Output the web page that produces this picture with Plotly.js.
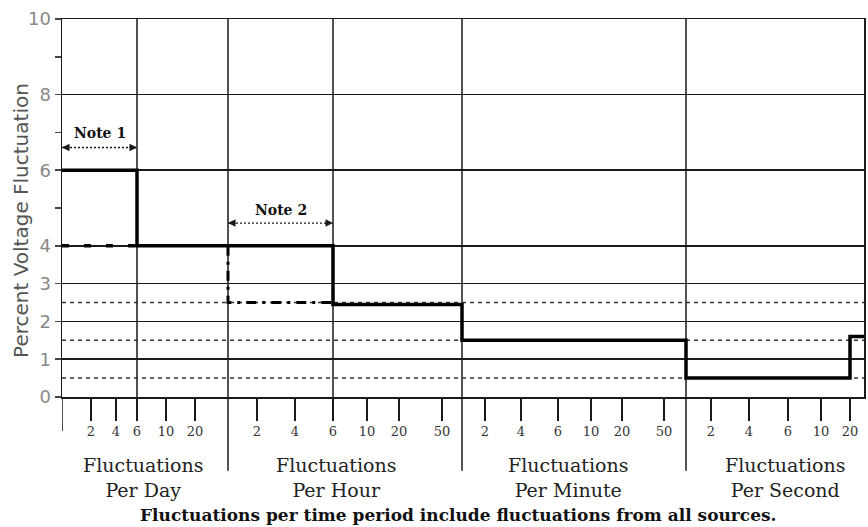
<!DOCTYPE html>
<html>
<head>
<meta charset="utf-8">
<script src="https://cdn.plot.ly/plotly-3.0.1.min.js"></script>
<style>
  html, body { margin: 0; padding: 0; background: #ffffff; }
  #chart { width: 868px; height: 527px; }
</style>
</head>
<body>
<div id="chart"></div>
<script>
// ---------------- data ----------------
const periods = ['Day', 'Hour', 'Minute', 'Second'];
const periodLabels = ['Fluctuations<br>Per Day', 'Fluctuations<br>Per Hour', 'Fluctuations<br>Per Minute', 'Fluctuations<br>Per Second'];
const dayTicks = [2, 4, 6, 10, 20];
const hourTicks = [2, 4, 6, 10, 20, 50];
const minuteTicks = [2, 4, 6, 10, 20, 50];
const secondTicks = [2, 4, 6, 10, 20];

// main limit curve (step, value holds until next breakpoint)
const limitCount = [1, 6, 6, 1, 1, 20, 25];
const limitPeriod = ['Day', 'Day', 'Hour', 'Minute', 'Second', 'Second', 'Second'];
const limitPercent = [6, 4, 2.45, 1.5, 0.5, 1.6, 1.6];

// Note 1 alternative limit
const note1Count = [1, 6];
const note1Period = ['Day', 'Day'];
const note1Percent = [4, 4];

// Note 2 alternative limit
const note2Count = [1, 1, 6];
const note2Period = ['Hour', 'Hour', 'Hour'];
const note2Percent = [4, 2.5, 2.5];

// dotted guide levels
const guidePercents = [0.5, 1.5, 2.5];

// y axis
const yLabelled = [0, 1, 2, 3, 4, 6, 8, 10];
const yUnlabelled = [5, 7, 9];

const yTitle = 'Percent Voltage Fluctuation';
const bottomNote = 'Fluctuations per time period include fluctuations from all sources.';

// ---------------- hand-drawn frequency scale of the chart ----------------
const SCALE = {
  Day:    { counts: [1, 2, 4, 6, 10, 20, 24],     pos: [0, 29, 54, 75, 104, 133, 166] },
  Hour:   { counts: [1, 2, 4, 6, 10, 20, 50, 60], pos: [166, 195, 233, 271, 305, 337, 380, 400] },
  Minute: { counts: [1, 2, 4, 6, 10, 20, 50, 60], pos: [400, 423, 459, 496, 529, 560, 602, 624] },
  Second: { counts: [1, 2, 4, 6, 10, 20, 25],     pos: [624, 649, 687, 726, 759, 788, 802] }
};
function pos(count, period) {
  const s = SCALE[period];
  for (let i = 0; i < s.counts.length - 1; i++) {
    if (count >= s.counts[i] && count <= s.counts[i + 1]) {
      const t = (count - s.counts[i]) / (s.counts[i + 1] - s.counts[i]);
      return s.pos[i] + t * (s.pos[i + 1] - s.pos[i]);
    }
  }
  return count < s.counts[0] ? s.pos[0] : s.pos[s.pos.length - 1];
}
const xMin = pos(1, 'Day');
const xMax = pos(25, 'Second');

// ticks
const tickSets = { Day: dayTicks, Hour: hourTicks, Minute: minuteTicks, Second: secondTicks };
const tickVals = [], tickText = [];
periods.forEach(p => tickSets[p].forEach(c => { tickVals.push(pos(c, p)); tickText.push(String(c)); }));

const INK = '#1a1a1a';
const serif = 'DejaVu Serif, Liberation Serif, serif';
const sans = 'DejaVu Sans, sans-serif';

// ---------------- traces ----------------
const traces = [
  {
    x: limitCount.map((c, i) => pos(c, limitPeriod[i])),
    y: limitPercent,
    mode: 'lines', line: { shape: 'hv', color: '#000', width: 3.5 },
    hoverinfo: 'skip', showlegend: false
  },
  {
    x: note1Count.map((c, i) => pos(c, note1Period[i])),
    y: note1Percent,
    mode: 'lines', line: { color: '#000', width: 3.5, dash: '7px,15px' },
    hoverinfo: 'skip', showlegend: false
  },
  {
    x: note2Count.map((c, i) => pos(c, note2Period[i])),
    y: note2Percent,
    mode: 'lines', line: { color: '#000', width: 3, dash: '10px,6px,3px,6px' },
    hoverinfo: 'skip', showlegend: false
  }
];

// ---------------- shapes ----------------
const shapes = [];
guidePercents.forEach(v => shapes.push({
  type: 'line', xref: 'x', yref: 'y', x0: xMin, x1: xMax, y0: v, y1: v,
  line: { color: '#333', width: 1.5, dash: '4px,4px' }, layer: 'below'
}));
// vertical grid lines at 6/day and 6/hour
[['Day', 6], ['Hour', 6]].forEach(([p, c]) => shapes.push({
  type: 'line', xref: 'x', yref: 'paper', x0: pos(c, p), x1: pos(c, p), y0: 0, y1: 1,
  line: { color: INK, width: 1.5 }, layer: 'below'
}));
// section boundaries, extended below the axis
['Hour', 'Minute', 'Second'].forEach(p => shapes.push({
  type: 'line', xref: 'x', yref: 'paper', x0: pos(1, p), x1: pos(1, p), y0: 1, y1: -0.195,
  line: { color: INK, width: 1.5 }, layer: 'below'
}));
// left axis extension
shapes.push({
  type: 'line', xref: 'x', yref: 'paper', x0: xMin, x1: xMin, y0: 0, y1: -0.09,
  line: { color: INK, width: 1.5 }
});
// note arrows (dotted shafts)
const noteArrows = [
  { from: pos(1, 'Day'), to: pos(6, 'Day'), y: 6.6, label: 'Note 1', ty: 6.98 },
  { from: pos(1, 'Hour'), to: pos(6, 'Hour'), y: 4.6, label: 'Note 2', ty: 4.95 }
];
noteArrows.forEach(a => shapes.push({
  type: 'line', xref: 'x', yref: 'y', x0: a.from, x1: a.to, y0: a.y, y1: a.y,
  line: { color: INK, width: 1.3, dash: '2px,2px' }
}));

// ---------------- annotations ----------------
const annotations = [];
noteArrows.forEach(a => {
  annotations.push({
    x: (a.from + a.to) / 2, y: a.ty, xref: 'x', yref: 'y', text: '<b>' + a.label + '</b>',
    showarrow: false, font: { family: serif, size: 14, color: '#111' }
  });
  annotations.push({
    x: a.from, y: a.y, xref: 'x', yref: 'y', ax: 9, ay: 0, text: '',
    showarrow: true, arrowhead: 2, arrowsize: 1, arrowwidth: 1.5, arrowcolor: INK
  });
  annotations.push({
    x: a.to, y: a.y, xref: 'x', yref: 'y', ax: -9, ay: 0, text: '',
    showarrow: true, arrowhead: 2, arrowsize: 1, arrowwidth: 1.5, arrowcolor: INK
  });
});
const sectionCenters = [81, 274, 506, 723];
periods.forEach((p, i) => annotations.push({
  x: sectionCenters[i], y: -0.212, xref: 'x', yref: 'paper', yanchor: 'middle',
  text: periodLabels[i], showarrow: false, align: 'center',
  font: { family: serif, size: 19, color: '#222' }
}));
annotations.push({
  x: 0.495, y: -0.313, xref: 'paper', yref: 'paper', yanchor: 'middle',
  text: '<b>' + bottomNote + '</b>', showarrow: false,
  font: { family: serif, size: 17, color: '#111' }
});
// y axis title
annotations.push({
  x: -0.051, y: 0.466, xref: 'paper', yref: 'paper', xanchor: 'center', yanchor: 'middle',
  text: yTitle, textangle: -90, showarrow: false,
  font: { family: sans, size: 20, color: '#555' }
});

// ---------------- layout ----------------
const layout = {
  width: 868, height: 527,
  margin: { l: 62, r: 4, t: 19, b: 130 },
  paper_bgcolor: '#ffffff', plot_bgcolor: '#ffffff',
  showlegend: false,
  xaxis: {
    range: [xMin, xMax], fixedrange: true,
    tickmode: 'array', tickvals: tickVals, ticktext: tickText,
    ticks: 'outside', ticklen: 22, tickwidth: 2, tickcolor: INK,
    tickfont: { family: serif, size: 13, color: '#333' },
    showgrid: false, zeroline: false,
    showline: true, mirror: true, linecolor: INK, linewidth: 1.5
  },
  yaxis: {
    range: [0, 10], fixedrange: true,
    tickmode: 'array', tickvals: yLabelled, ticktext: yLabelled.map(String),
    ticks: 'outside', ticklen: 6, tickwidth: 1.5, tickcolor: '#444',
    tickfont: { family: sans, size: 18, color: '#888' },
    showgrid: true, gridcolor: INK, gridwidth: 1.5, zeroline: false,
    showline: true, mirror: true, linecolor: INK, linewidth: 1.5,
    minor: { tickmode: 'array', tickvals: yUnlabelled, ticks: 'outside', ticklen: 6, tickwidth: 1.5, tickcolor: '#444', showgrid: false }
  },
  shapes: shapes,
  annotations: annotations
};

Plotly.newPlot('chart', traces, layout, { staticPlot: true, displayModeBar: false });
</script>
</body>
</html>
